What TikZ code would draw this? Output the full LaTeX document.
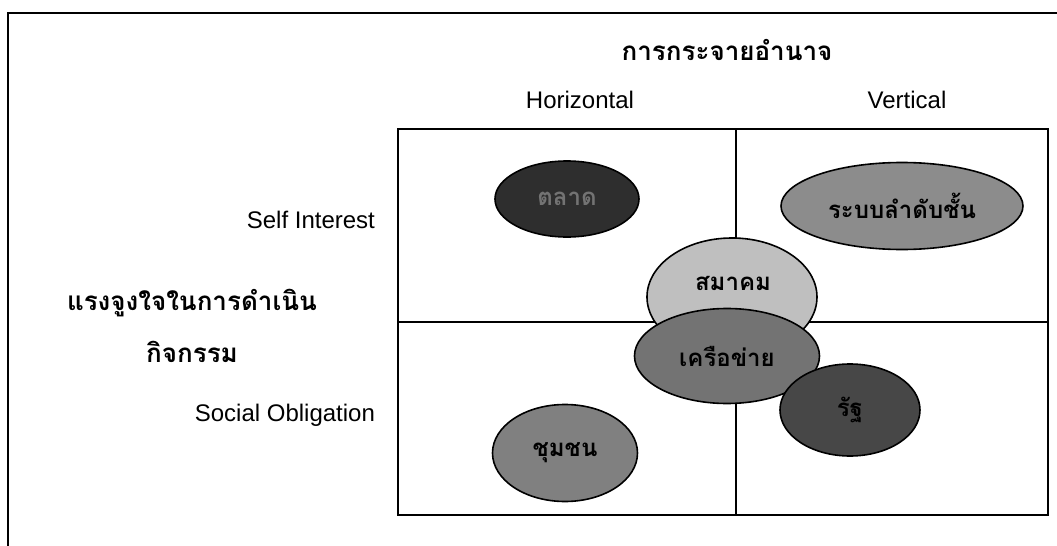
\documentclass[tikz,border=0pt]{standalone}
\usepackage{fontspec}
\setmainfont{Liberation Sans}
\newfontfamily\thaifont[Script=Thai]{Loma}
\usetikzlibrary{shapes.geometric}
\begin{document}
\begin{tikzpicture}[x=0.5pt, y=-0.5pt,
  axislabel/.style={font=\fontsize{12}{14}\selectfont},
  thaititle/.style={font=\thaifont\bfseries\fontsize{13}{15}\selectfont},
  blob/.style={draw, ellipse, line width=0.8pt, inner sep=0pt, font=\thaifont\bfseries\fontsize{12}{14}\selectfont},
  blobtext/.style={inner sep=0pt, font=\thaifont\bfseries\fontsize{12}{14}\selectfont},
  gridline/.style={line width=0.8pt},
  frameline/.style={line width=1pt}
]
\useasboundingbox (0,0) rectangle (1057,546);
\draw[frameline] (8,546) -- (8,13) -- (1057,13);

\node[thaititle] (power) at (727,50) {การกระจายอำนาจ};
\node[axislabel] (horiz) at (580,100) {Horizontal};
\node[axislabel] (vert) at (907,100) {Vertical};
\node[axislabel, anchor=east] (self) at (382,220) {Self Interest};
\node[axislabel, anchor=east] (social) at (382,415) {Social Obligation};
\node[thaititle] (motive1) at (192,303) {แรงจูงใจในการดำเนิน};
\node[thaititle] (motive2) at (192,352) {กิจกรรม};

\draw[gridline] (398,129) rectangle (1048,515);
\draw[gridline] (736,129) -- (736,515);
\draw[gridline] (398,322) -- (1048,322);

\node[blob, fill=black!82, text=black!55, minimum width=72pt, minimum height=38pt] (market) at (567,199) {ตลาด};
\node[blob, fill=black!45, minimum width=121pt, minimum height=43.5pt] (hierarchy) at (902,206) {ระบบลำดับชั้น};
\node[blob, fill=black!25, minimum width=85pt, minimum height=59pt] (assoc) at (732,297) {};
\node[blobtext] (assoclabel) at (733,283) {สมาคม};
\node[blob, fill=black!55, minimum width=92.5pt, minimum height=47.5pt] (network) at (727,356) {เครือข่าย};
\node[blob, fill=black!72, minimum width=70pt, minimum height=46pt] (state) at (850,410) {รัฐ};
\node[blob, fill=black!50, minimum width=72.5pt, minimum height=48.5pt] (community) at (565,453) {ชุมชน};
\end{tikzpicture}
\end{document}
